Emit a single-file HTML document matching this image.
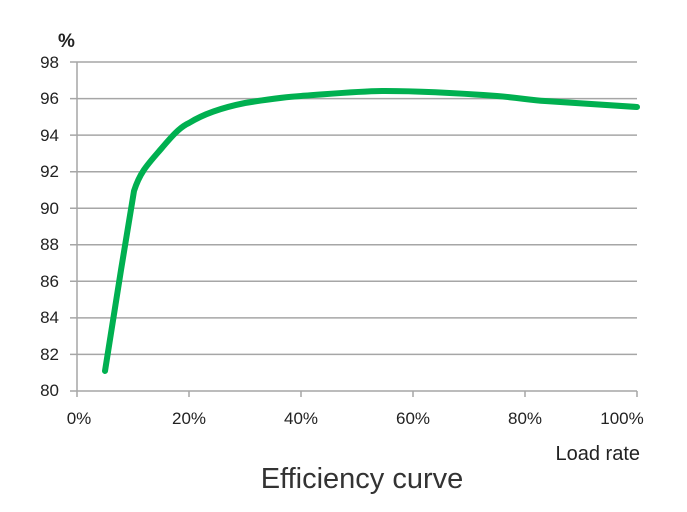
<!DOCTYPE html>
<html><head><meta charset="utf-8"><style>
body{margin:0;background:#fff;}
svg{display:block;font-family:"Liberation Sans",sans-serif;}
</style></head><body>
<svg width="687" height="512" viewBox="0 0 687 512">
<g stroke="#a6a6a6" stroke-width="1.5">
<line x1="70" y1="62" x2="637" y2="62"/>
<line x1="70" y1="98.6" x2="637" y2="98.6"/>
<line x1="70" y1="135.1" x2="637" y2="135.1"/>
<line x1="70" y1="171.7" x2="637" y2="171.7"/>
<line x1="70" y1="208.2" x2="637" y2="208.2"/>
<line x1="70" y1="244.8" x2="637" y2="244.8"/>
<line x1="70" y1="281.3" x2="637" y2="281.3"/>
<line x1="70" y1="317.9" x2="637" y2="317.9"/>
<line x1="70" y1="354.4" x2="637" y2="354.4"/>
<line x1="70" y1="391" x2="637" y2="391"/>
<line x1="77" y1="62" x2="77" y2="397"/>
<line x1="189" y1="391" x2="189" y2="397"/>
<line x1="301" y1="391" x2="301" y2="397"/>
<line x1="413" y1="391" x2="413" y2="397"/>
<line x1="525" y1="391" x2="525" y2="397"/>
<line x1="637" y1="391" x2="637" y2="397"/>
</g>
<g font-size="17" fill="#222" text-anchor="end">
<text x="59" y="68">98</text><text x="59" y="104">96</text><text x="59" y="141">94</text>
<text x="59" y="177">92</text><text x="59" y="214">90</text><text x="59" y="250">88</text>
<text x="59" y="287">86</text><text x="59" y="323">84</text><text x="59" y="360">82</text>
<text x="59" y="396">80</text>
</g>
<text x="58" y="47" font-size="19" font-weight="bold" fill="#222">%</text>
<g font-size="17" fill="#222" text-anchor="middle">
<text x="79" y="424">0%</text><text x="189" y="424">20%</text><text x="301" y="424">40%</text>
<text x="413" y="424">60%</text><text x="525" y="424">80%</text><text x="622" y="424">100%</text>
</g>
<text x="640" y="460" font-size="20" fill="#222" text-anchor="end">Load rate</text>
<text x="362" y="488" font-size="29" fill="#333" text-anchor="middle">Efficiency curve</text>
<path d="M105,371 L121,270 L134,191 C140,172 148,164 161,149 C172,136 180,127 189,123 C205,113 225,107 245,103 C270,99 285,97 301,96 C330,94 360,91 385,91 C420,91 470,94 497,96 C520,98 530,100 545,101 C575,103 605,105 637,107"
 fill="none" stroke="#00b050" stroke-width="6" stroke-linecap="round" stroke-linejoin="round"/>
</svg>
</body></html>
